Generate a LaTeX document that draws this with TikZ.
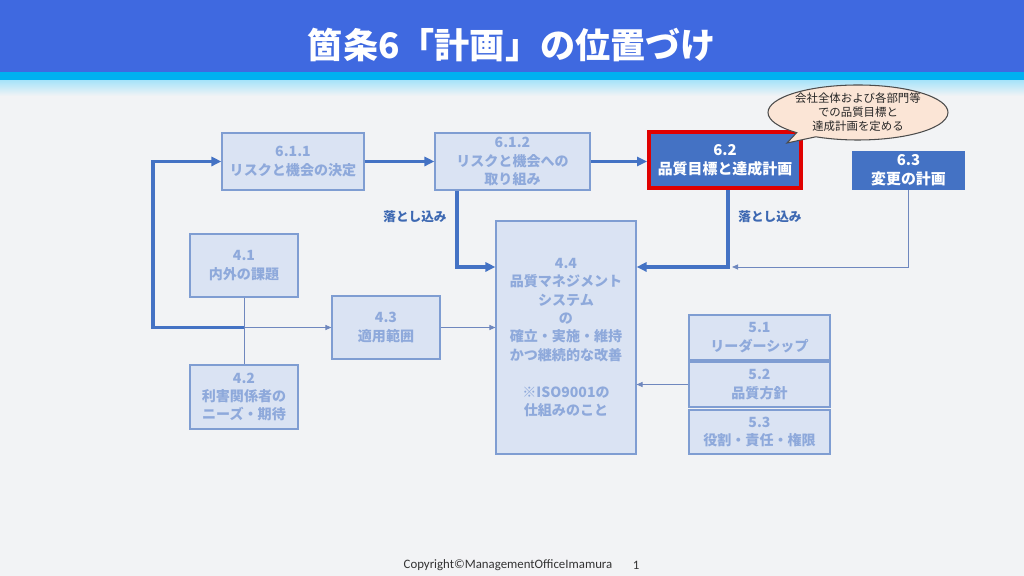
\documentclass[tikz,border=0pt]{standalone}
\usepackage{fontspec}
\setmainfont{Noto Sans CJK JP}
\newfontfamily\footfont{Carlito}
\usepackage{xcolor}
\usetikzlibrary{arrows.meta, positioning, calc, shapes.callouts}
\definecolor{qbar}{HTML}{3F69E0}
\definecolor{qcyan}{HTML}{00B0F0}
\definecolor{qpaper}{HTML}{F2F3F5}
\definecolor{qfill}{HTML}{DAE3F3}
\definecolor{qedge}{HTML}{7F9DD2}
\definecolor{qtext}{HTML}{8EA9DB}
\definecolor{qblue}{HTML}{4472C4}
\definecolor{qline}{HTML}{6F87BE}
\definecolor{qred}{HTML}{E00000}
\definecolor{qnavy}{HTML}{3D68B2}
\definecolor{qpeach}{HTML}{FBE5D6}

\begin{document}
\begin{tikzpicture}[x=1cm, y=1cm,
  qbox/.style={draw=qedge, fill=qfill, line width=0.6pt, text=qtext,
    font=\fontsize{8}{10.5}\selectfont\bfseries, align=center, inner sep=0pt},
  qdark/.style={fill=qblue, text=white,
    font=\fontsize{8.5}{11}\selectfont\bfseries, align=center, inner sep=0pt},
  mainlink/.style={qblue, line width=1.8pt, -{Triangle[length=0.2cm, width=0.18cm]}},
  sublink/.style={qline, line width=0.55pt, -{Triangle[length=0.12cm, width=0.1cm]}},
  dropnote/.style={font=\fontsize{7.2}{9}\selectfont\bfseries, text=qnavy}]
\useasboundingbox (0,0) rectangle (20.48,11.52);
\fill[qpaper] (0,0) rectangle (20.48,11.52);
\shade[top color=qcyan!35, bottom color=qpaper] (0,9.60) rectangle (20.48,9.92);
\fill[qcyan] (0,9.92) rectangle (20.48,10.08);
\fill[qbar] (0,10.08) rectangle (20.48,11.52);
\node[font=\fontsize{20}{24}\selectfont\bfseries, text=white] (title) at (10.24,10.62) {箇条6「計画」の位置づけ};

\node[qbox, minimum width=2.84cm, minimum height=1.14cm] (q611) at (5.86,8.29) {6.1.1\\リスクと機会の決定};
\node[qbox, minimum width=3.10cm, minimum height=1.14cm] (q612) at (10.25,8.29) {6.1.2\\リスクと機会への\\取り組み};
\node[qdark, draw=qred, line width=2.2pt, minimum width=3.04cm, minimum height=1.12cm] (q62) at (14.50,8.32) {6.2\\品質目標と達成計画};
\node[qdark, minimum width=2.26cm, minimum height=0.78cm] (q63) at (18.17,8.11) {6.3\\変更の計画};
\node[ellipse callout, draw=black!70, fill=qpeach, line width=0.6pt, minimum width=3.6cm, minimum height=1.1cm,
  callout absolute pointer={(15.74,8.66)}, font=\fontsize{6.5}{8}\selectfont, text=black!85, align=center, inner sep=0pt]
  (memo) at (17.16,9.27) {会社全体および各部門等\\での品質目標と\\達成計画を定める};

\node[qbox, minimum width=2.16cm, minimum height=1.26cm] (q41) at (4.88,6.21) {4.1\\内外の課題};
\node[qbox, minimum width=2.16cm, minimum height=1.28cm] (q42) at (4.88,3.58) {4.2\\利害関係者の\\ニーズ・期待};
\node[qbox, minimum width=2.16cm, minimum height=1.26cm] (q43) at (7.72,4.97) {4.3\\適用範囲};
\node[qbox, minimum width=2.80cm, minimum height=4.66cm] (q44) at (11.32,4.77)
  {4.4\\品質マネジメント\\システム\\の\\確立・実施・維持\\かつ継続的な改善\\[10.5pt]※ISO9001の\\仕組みのこと};
\node[qbox, minimum width=2.82cm, minimum height=0.90cm] (q51) at (15.19,4.77) {5.1\\リーダーシップ};
\node[qbox, minimum width=2.82cm, minimum height=0.90cm] (q52) at (15.19,3.83) {5.2\\品質方針};
\node[qbox, minimum width=2.82cm, minimum height=0.88cm] (q53) at (15.19,2.88) {5.3\\役割・責任・権限};

\coordinate (split) at (q41.south |- q43.west);
\coordinate (bend) at (3.06,4.97);
\coordinate (join) at (14.64,6.18);
\draw[qline, line width=0.55pt] (q41.south) -- (q42.north);
\draw[mainlink] (split) -- (bend) |- (q611.west);
\draw[sublink] (split) -- (q43.west);
\draw[mainlink] (q611.east) -- (q612.west);
\draw[mainlink] (q612.east) -- (q612.east -| q62.west);
\draw[mainlink] ([xshift=-1.11cm]q612.south) |- ([yshift=1.41cm]q44.west);
\draw[mainlink] ([xshift=0.06cm]q62.south) |- ([yshift=1.41cm]q44.east);
\draw[sublink] (q63.south) |- (join);
\draw[sublink] (q43.east) -- (q43.east -| q44.west);
\draw[sublink] (q52.west) -- (q52.west -| q44.east);
\node[dropnote] (drop1) at (8.30,7.18) {落とし込み};
\node[dropnote] (drop2) at (15.40,7.18) {落とし込み};

\node[font=\footfont\fontsize{7.3}{9}\selectfont, text=black!80] (copy) at (10.16,0.22) {Copyright©ManagementOfficeImamura};
\node[font=\footfont\fontsize{7.3}{9}\selectfont, text=black!80] (page) at (12.72,0.22) {1};
\end{tikzpicture}
\end{document}
